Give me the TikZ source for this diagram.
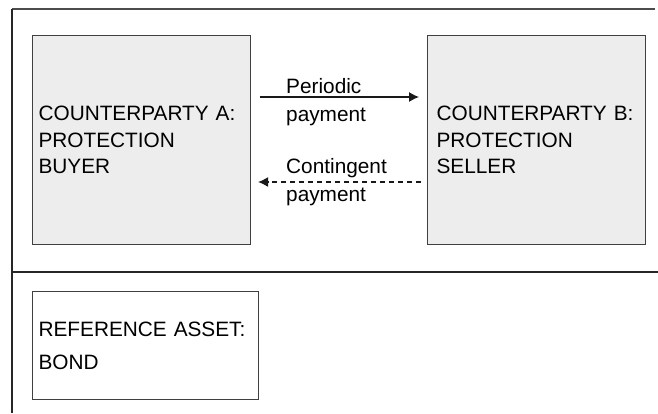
\documentclass[tikz,border=0pt]{standalone}
\usepackage{fontspec}
\setmainfont{Liberation Sans}
\usetikzlibrary{arrows.meta}

\tikzset{
  party/.style={draw=black!75, line width=1.1pt, fill=black!7, anchor=north west,
    minimum width=218pt, minimum height=209pt, align=left,
    font=\fontsize{20.8}{26.7}\selectfont},
  paylabel/.style={anchor=north west, align=left, inner sep=0pt,
    font=\fontsize{20.8}{28}\selectfont},
  pay/.style={draw=black!90, line width=1.2pt, -{Latex[length=10pt,width=10pt]}},
}

\begin{document}
\begin{tikzpicture}[x=1pt, y=-1pt]
        \useasboundingbox (0,0) rectangle (658,413);

        % Frame
        \draw[black!70, line width=2pt] (12,9) -- (655,9);
        \draw[black!85, line width=1.4pt] (12,9) -- (12,413);
        \draw[black!85, line width=2pt] (12,272) -- (658,272);

        % Counterparties
        \node[party, text width=206pt, inner xsep=6pt] (buyer) at (32,35)
            {COUNTERPARTY A:\\PROTECTION\\BUYER};
        \node[party, text width=200pt, inner xsep=9pt] (seller) at (427,35)
            {COUNTERPARTY B:\\PROTECTION\\SELLER};

        % Payments
        \draw[pay] ([shift={(9,62)}]buyer.north east) -- ([shift={(-8,62)}]seller.north west);
        \draw[pay, dash pattern=on 5.5pt off 3.5pt] ([shift={(-6,147)}]seller.north west) -- ([shift={(7,147)}]buyer.north east);
        \node[paylabel] (periodic) at (286,78) {Periodic\\payment};
        \node[paylabel] (contingent) at (286,158) {Contingent\\payment};

        % Reference asset
        \node[party, fill=white, minimum width=226pt, minimum height=108pt,
            text width=214pt, inner xsep=6pt, font=\fontsize{20.8}{33.3}\selectfont]
            (asset) at (32,291) {REFERENCE ASSET:\\BOND};
\end{tikzpicture}
\end{document}
